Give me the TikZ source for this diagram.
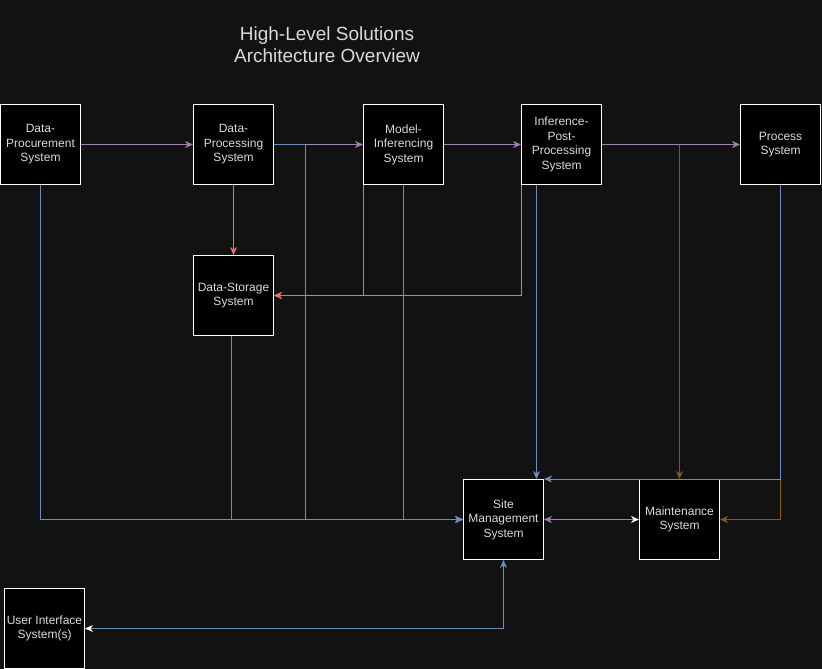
\documentclass[tikz,border=0pt]{standalone}
\usepackage{fontspec}
\setmainfont{Liberation Sans}
\usetikzlibrary{arrows.meta}
\definecolor{bgdark}{HTML}{121212}
\definecolor{boxtext}{HTML}{DADADA}
\definecolor{linkblue}{HTML}{6C8EBF}
\definecolor{linkpurple}{HTML}{A47FB6}
\definecolor{linkpink}{HTML}{E8716D}
\definecolor{linkbrown}{HTML}{7F5A0F}
\tikzset{
  sysbox/.style={draw=white,fill=black,line width=1pt,minimum width=80pt,minimum height=80pt,
    inner sep=0pt,align=center,text=boxtext,font=\fontsize{12}{14.4}\selectfont},
  tip/.style={-{Stealth[length=8pt,width=7pt,inset=2.5pt]}},
}

\begin{document}
\begin{tikzpicture}[x=1pt,y=-1pt,line width=1pt]
\fill[bgdark] (0,0) rectangle (822,669);
\useasboundingbox (0,0) rectangle (822,669);
\node[align=center,text=boxtext,font=\fontsize{19}{22}\selectfont] (title) at (327,45) {High-Level Solutions\\Architecture Overview};
\node[sysbox] (procure) at (40.5,144.5) {Data-\\Procurement\\System};
\node[sysbox] (dproc) at (233.5,144.5) {Data-\\Processing\\System};
\node[sysbox] (model) at (403.5,144.5) {Model-\\Inferencing\\System};
\node[sysbox] (post) at (561.5,144.5) {Inference-\\Post-\\Processing\\System};
\node[sysbox] (process) at (780.5,144.5) {Process\\System};
\node[sysbox] (store) at (233.5,295.5) {Data-Storage\\System};
\node[sysbox] (site) at (503.5,519.5) {Site\\Management\\System};
\node[sysbox] (maint) at (679.5,519.5) {Maintenance\\System};
\node[sysbox] (ui) at (44.5,628.5) {User Interface\\System(s)};
\draw[linkbrown,tip] (post.east) -| (maint.north);
\draw[linkbrown,tip] (process.south) |- (maint.east);
\draw[linkpurple,tip] (procure.east) -- (dproc.west);
\draw[linkpurple,tip] (dproc.east) -- (model.west);
\draw[linkpurple,tip] (model.east) -- (post.west);
\draw[linkpurple,tip] (post.east) -- (process.west);
\draw[linkpink,tip] (dproc.south) -- (store.north);
\draw[linkpink,tip] (model.south west) |- (store.east);
\draw[linkpink,tip] (post.south west) |- (store.east);
\draw[linkblue,tip] (procure.south) |- (site.west);
\draw[linkblue,tip] (dproc.east) -- ++(31,0) |- (site.west);
\draw[linkblue,tip] ([xshift=-2pt]store.south) |- (site.west);
\draw[linkblue,tip] (model.south) |- (site.west);
\draw[linkblue,tip] ([xshift=-25pt]post.south) -- ([xshift=-25pt]post.south |- site.north);
\draw[linkblue,tip] (process.south) |- (site.north east);
\draw[linkpurple,{Stealth[length=8pt,width=7pt,inset=2.5pt]}-{Stealth[length=8pt,width=7pt,inset=2.5pt,color=white]}] (site.east) -- (maint.west);
\draw[linkblue,{Stealth[length=8pt,width=7pt,inset=2.5pt]}-{Stealth[length=8pt,width=7pt,inset=2.5pt,color=white]}] (site.south) |- (ui.east);
\end{tikzpicture}
\end{document}
